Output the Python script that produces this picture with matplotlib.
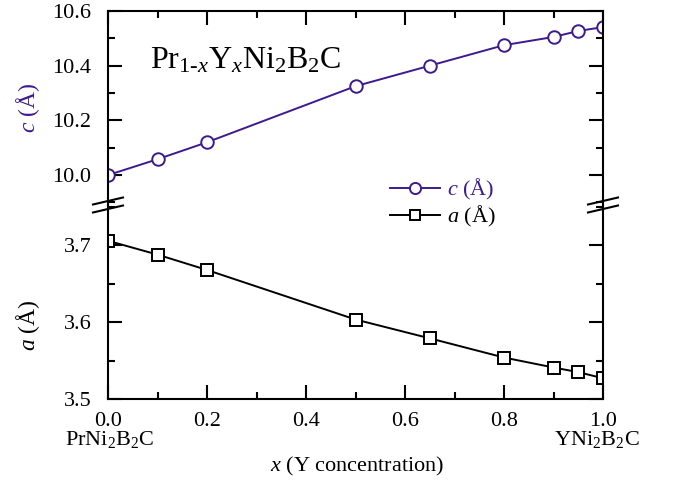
import matplotlib
matplotlib.use('Agg')

import matplotlib.pyplot as plt
from matplotlib.lines import Line2D
from matplotlib.ticker import MultipleLocator

plt.rcParams['font.family'] = ['Liberation Serif', 'DejaVu Serif']
plt.rcParams['mathtext.fontset'] = 'custom'
plt.rcParams['mathtext.rm'] = 'Liberation Serif'
plt.rcParams['mathtext.it'] = 'Liberation Serif:italic'

# composition and lattice parameters
x_conc = [0.0, 0.1, 0.2, 0.5, 0.65, 0.8, 0.9, 0.95, 1.0]
c_latt = [10.000, 10.058, 10.120, 10.325, 10.400, 10.475, 10.505, 10.527, 10.541]
a_latt = [3.706, 3.688, 3.668, 3.6035, 3.579, 3.554, 3.541, 3.535, 3.527]

PURPLE = "#3d1a8e"
W, H = 674, 482
left, right = 108, 603
top, mid, bottom = 11, 205, 399

fig = plt.figure(figsize=(W / 100, H / 100), dpi=100)
ax_c = fig.add_axes([left / W, 1 - mid / H, (right - left) / W, (mid - top) / H])
ax_a = fig.add_axes([left / W, 1 - bottom / H, (right - left) / W, (bottom - mid) / H])

ax_c.plot(x_conc, c_latt, color=PURPLE, lw=1.4, marker="o", ms=9,
          mfc="white", mec=PURPLE, mew=1.4, label=r"$c$ (Å)")
ax_a.plot(x_conc, a_latt, color="black", lw=1.4, marker="s", ms=8,
          mfc="white", mec="black", mew=1.4, label=r"$a$ (Å)")

ax_c.set_xlim(0, 1)
ax_a.set_xlim(0, 1)
ax_c.set_ylim(10.6 - (mid - top) / 273.5, 10.6)
ax_a.set_ylim(3.5, 3.5 + (bottom - mid) / 768)

for ax in (ax_c, ax_a):
    for s in ax.spines.values():
        s.set_linewidth(1.5)
    ax.xaxis.set_major_locator(MultipleLocator(0.2))
    ax.xaxis.set_minor_locator(MultipleLocator(0.1))
    ax.tick_params(which="both", direction="in", width=1.5, labelsize=16)
    ax.tick_params(which="major", length=10)
    ax.tick_params(which="minor", length=5)
    ax.tick_params(axis="y", pad=12)

ax_c.spines["bottom"].set_visible(False)
ax_a.spines["top"].set_visible(False)
ax_c.tick_params(which="both", bottom=False, top=True, left=True, right=True,
                 labelbottom=False)
ax_a.tick_params(which="both", bottom=True, top=False, left=True, right=True)
ax_c.yaxis.set_major_locator(MultipleLocator(0.2))
ax_c.yaxis.set_minor_locator(MultipleLocator(0.1))
ax_c.yaxis.set_major_formatter(plt.FormatStrFormatter("%.1f"))
ax_a.yaxis.set_major_locator(MultipleLocator(0.1))
ax_a.yaxis.set_minor_locator(MultipleLocator(0.05))
ax_a.yaxis.set_major_formatter(plt.FormatStrFormatter("%.1f"))
ax_a.xaxis.set_major_formatter(plt.FormatStrFormatter("%.1f"))
ax_a.tick_params(axis="x", pad=9)

ax_c.set_ylabel(r"$c$ (Å)", fontsize=17, color=PURPLE)
ax_a.set_ylabel(r"$a$ (Å)", fontsize=17)
ax_c.yaxis.set_label_coords(-0.133, 0.5)
ax_a.yaxis.set_label_coords(-0.133, 0.38)

ax_c.text(0.085, 0.745, r"Pr$_{1\text{-}x}$Y$_x$Ni$_2$B$_2$C", transform=ax_c.transAxes,
          fontsize=23, ha="left", va="center")

fig.text(110 / W, 1 - 440 / H, r"PrNi$_2$B$_2$C", fontsize=16, ha="center", va="center")
fig.text(597 / W, 1 - 440 / H, r"YNi$_2$B$_2$C", fontsize=16, ha="center", va="center")
fig.text(357 / W, 1 - 466 / H, r"$x$ (Y concentration)", fontsize=16, ha="center",
         va="center")

handles = [Line2D([], [], color=PURPLE, lw=1.4, marker="o", ms=8, mfc="white",
                  mec=PURPLE, mew=1.4),
           Line2D([], [], color="black", lw=1.4, marker="s", ms=7, mfc="white",
                  mec="black", mew=1.4)]
leg = fig.legend(handles, [r"$c$ (Å)", r"$a$ (Å)"], loc="center left",
                 bbox_to_anchor=(390 / W, 1 - 203 / H), frameon=False, fontsize=16,
                 handlelength=2.25, handletextpad=0.3, labelspacing=0.1,
                 borderpad=0, borderaxespad=0)
leg.get_texts()[0].set_color(PURPLE)

# break marks on both vertical spines
for xc in (left, right):
    for dy in (-4, 4):
        fig.add_artist(Line2D([(xc - 15) / W, (xc + 15) / W],
                              [1 - (mid + dy + 3.5) / H, 1 - (mid + dy - 3.5) / H],
                              color="black", lw=1.5))

fig.savefig("out.png", dpi=100, facecolor="white")
